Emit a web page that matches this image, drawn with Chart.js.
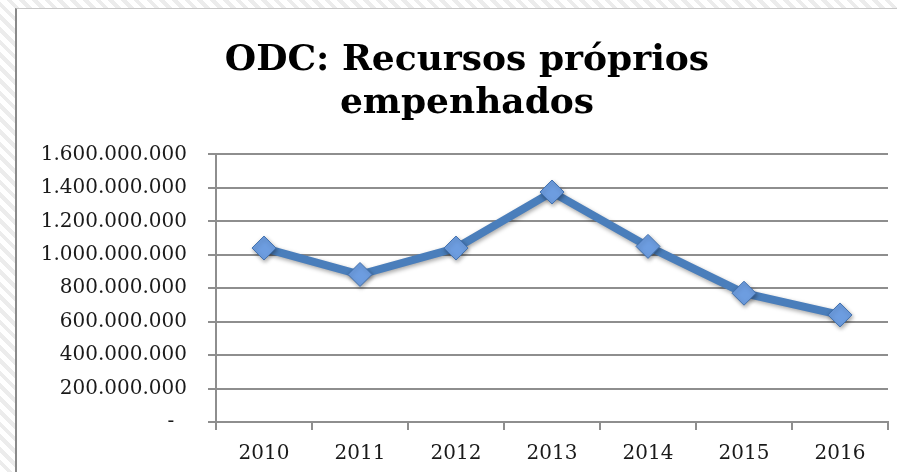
<!DOCTYPE html>
<html lang="pt">
<head>
    <meta charset="UTF-8">
    <title>ODC: Recursos próprios empenhados</title>
    <style>
        html, body {
            margin: 0;
            padding: 0;
        }

        body {
            width: 897px;
            height: 472px;
            overflow: hidden;
            position: relative;
            background: repeating-linear-gradient(45deg, #ffffff 0 5px, #ececec 5px 9px);
        }

        .box {
            position: absolute;
            left: 15px;
            top: 8px;
            width: 902px;
            height: 464px;
            background: #fff;
            border-left: 2px solid #8a8a8a;
            border-top: 1px solid #c8c8c8;
        }

        canvas {
            display: block;
        }
    </style>
</head>
<body>
    <div class="box">
        <!-- canvas runs a little past the right edge, as the chart box does in the original -->
        <canvas id="chart" width="900" height="463"></canvas>
    </div>
    <script src="https://cdn.jsdelivr.net/npm/chart.js"></script>
    <script>
        const titleLines = ['ODC: Recursos próprios', 'empenhados'];
        const years = ['2010', '2011', '2012', '2013', '2014', '2015', '2016'];
        const empenhados = [1040000000, 882000000, 1040000000, 1375000000, 1050000000, 770000000, 640000000];
        const yMax = 1600000000;
        const yStep = 200000000;

        const gridColor = '#8e8e8e';
        const lineBlue = '#4a7ebb';

        function formatBR(v) {
            if (v === 0) return '-  ';
            return String(Math.round(v)).replace(/\B(?=(\d{3})+(?!\d))/g, '.');
        }

        // soft shadow under the line and markers, like the original
        const shadowPlugin = {
            id: 'shadow',
            beforeDatasetsDraw(chart) {
                const ctx = chart.ctx;
                ctx.save();
                ctx.shadowColor = 'rgba(0, 0, 0, 0.35)';
                ctx.shadowBlur = 4;
                ctx.shadowOffsetX = 1;
                ctx.shadowOffsetY = 2;
            },
            afterDatasetsDraw(chart) {
                chart.ctx.restore();
            }
        };

        const ctx = document.getElementById('chart').getContext('2d');
        new Chart(ctx, {
            type: 'line',
            data: {
                labels: years,
                datasets: [{
                    data: empenhados,
                    yAxisID: 'y',
                    borderColor: lineBlue,
                    borderWidth: 8,
                    tension: 0,
                    pointStyle: 'rectRot',
                    pointRadius: 12,
                    pointBackgroundColor: '#6d9de0',
                    pointBorderColor: '#4170ad',
                    pointBorderWidth: 1
                }]
            },
            options: {
                responsive: false,
                animation: false,
                layout: {
                    padding: { left: 0, right: 0, top: 0, bottom: 9 }
                },
                plugins: {
                    legend: { display: false },
                    tooltip: { enabled: false },
                    title: {
                        display: true,
                        text: titleLines,
                        color: '#000',
                        font: { family: 'DejaVu Serif', size: 36, weight: 'bold', lineHeight: 1.2 },
                        padding: { top: 30, bottom: 29 }
                    }
                },
                scales: {
                    x: {
                        offset: true,
                        grid: {
                            offset: true,
                            drawOnChartArea: false,
                            drawTicks: true,
                            tickLength: 8,
                            color: gridColor,
                            lineWidth: 2
                        },
                        border: { color: gridColor, width: 2 },
                        ticks: {
                            color: '#1a1a1a',
                            padding: 12,
                            font: { family: 'DejaVu Serif', size: 20 }
                        },
                        afterFit(scale) {
                            scale.height = 41;
                        }
                    },
                    y: {
                        min: 0,
                        max: yMax,
                        ticks: {
                            stepSize: yStep,
                            color: '#1a1a1a',
                            padding: 21,
                            font: { family: 'DejaVu Serif', size: 20 },
                            callback: value => formatBR(value)
                        },
                        grid: {
                            color: gridColor,
                            lineWidth: 2,
                            tickLength: 8
                        },
                        border: { color: gridColor, width: 2 },
                        afterFit(scale) {
                            scale.width = 199;
                        }
                    },
                    // empty right-hand spacer so the title stays centred on the whole box
                    spacer: {
                        position: 'right',
                        min: 0,
                        max: yMax,
                        ticks: { display: false },
                        grid: { display: false },
                        border: { display: false },
                        afterFit(scale) {
                            scale.width = 29;
                        }
                    }
                }
            },
            plugins: [shadowPlugin]
        });
    </script>
</body>
</html>
